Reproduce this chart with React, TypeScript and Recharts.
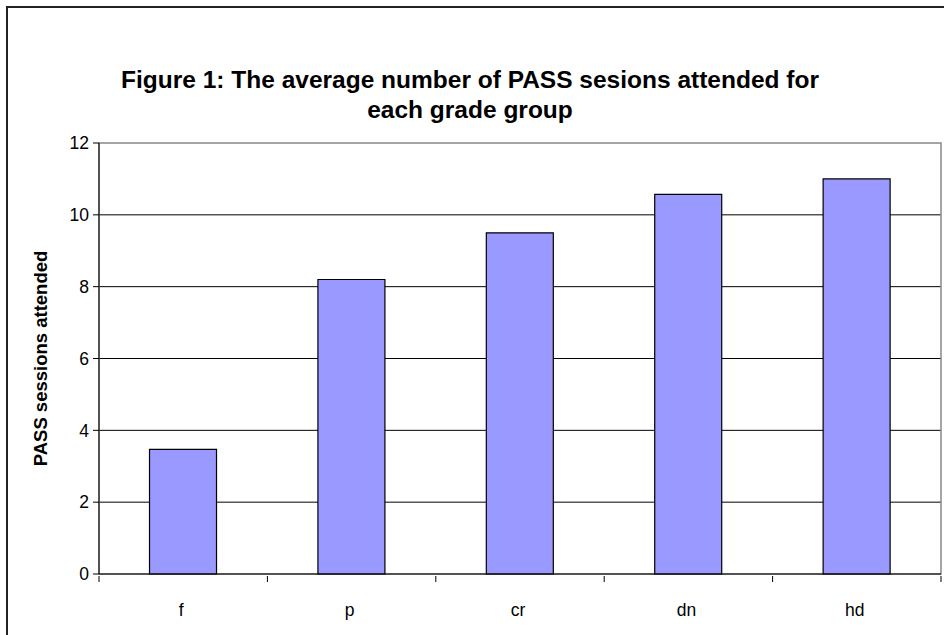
import React from 'react';
import { BarChart, Bar, XAxis, YAxis, CartesianGrid, ReferenceArea } from 'recharts';

const categories = ['f', 'p', 'cr', 'dn', 'hd'];
const sessionsAttended = [3.47, 8.2, 9.5, 10.57, 11.0];
const yTicks = [0, 2, 4, 6, 8, 10, 12];
const titleLines = ['Figure 1: The average number of PASS sesions attended for', 'each grade group'];
const yLabel = 'PASS sessions attended';

const data = categories.map((c, i) => ({ cat: c, pos: i + 0.5, value: sessionsAttended[i] }));
const xTicks: number[] = [];
for (let i = 0; i <= categories.length * 2; i++) xTicks.push(i / 2);

const FONT = '"Liberation Sans", Arial, sans-serif';

const XTick = (props: any) => {
  const { x, y, payload } = props;
  const v = payload.value as number;
  if (Number.isInteger(v)) {
    return <line x1={x} x2={x} y1={y} y2={y + 6} stroke="#000" strokeWidth={1} />;
  }
  const label = categories[Math.floor(v)];
  return (
    <text x={x - 2} y={y + 40} textAnchor="middle" fontFamily={FONT} fontSize={17.5} fill="#000">
      {label}
    </text>
  );
};

export default function App() {
  return (
    <div style={{ position: 'absolute', left: 0, top: 0, width: 944, height: 635, overflow: 'hidden', background: '#fff' }}>
      <div style={{ position: 'absolute', left: 6, top: 6, width: 960, height: 660, border: '2px solid #222', boxSizing: 'border-box' }} />
      <div
        style={{
          position: 'absolute',
          left: 0,
          top: 65,
          width: 940,
          textAlign: 'center',
          fontFamily: FONT,
          fontWeight: 'bold',
          fontSize: 24.5,
          lineHeight: '30px',
          color: '#000',
        }}
      >
        {titleLines.map((t) => (
          <div key={t}>{t}</div>
        ))}
      </div>
      <BarChart
        width={944}
        height={635}
        data={data}
        margin={{ top: 143, right: 3, left: 59, bottom: 31 }}
        barCategoryGap="30%"
        style={{ position: 'absolute', left: 0, top: 0 }}
      >
        <CartesianGrid vertical={false} stroke="#000" horizontalValues={[2, 4, 6, 8, 10]} />
        <ReferenceArea x1={0} x2={5} y1={0} y2={12} fill="none" stroke="#888" strokeWidth={1.5} ifOverflow="visible" />
        <XAxis
          dataKey="pos"
          type="number"
          domain={[0, 5]}
          ticks={xTicks}
          interval={0}
          height={30}
          tickSize={0}
          tickLine={false}
          tick={<XTick />}
          axisLine={{ stroke: '#000' }}
          allowDecimals
        />
        <YAxis
          domain={[0, 12]}
          ticks={yTicks}
          width={40}
          interval={0}
          tickSize={6}
          tickMargin={4}
          tickLine={{ stroke: '#000' }}
          axisLine={{ stroke: '#000' }}
          tick={{ fontFamily: FONT, fontSize: 17.5, fill: '#000' }}
          label={{
            content: (p: any) => {
              const vb = p.viewBox;
              const cx = vb.x - 19;
              const cy = vb.y + vb.height / 2;
              return (
                <text
                  x={cx}
                  y={cy}
                  transform={`rotate(-90, ${cx}, ${cy})`}
                  textAnchor="middle"
                  dominantBaseline="central"
                  fontFamily={FONT}
                  fontWeight="bold"
                  fontSize={18.5}
                  fill="#000"
                >
                  {yLabel}
                </text>
              );
            },
          }}
        />
        <Bar dataKey="value" fill="#9999FF" stroke="#000" strokeWidth={1.2} isAnimationActive={false} />
      </BarChart>
    </div>
  );
}
